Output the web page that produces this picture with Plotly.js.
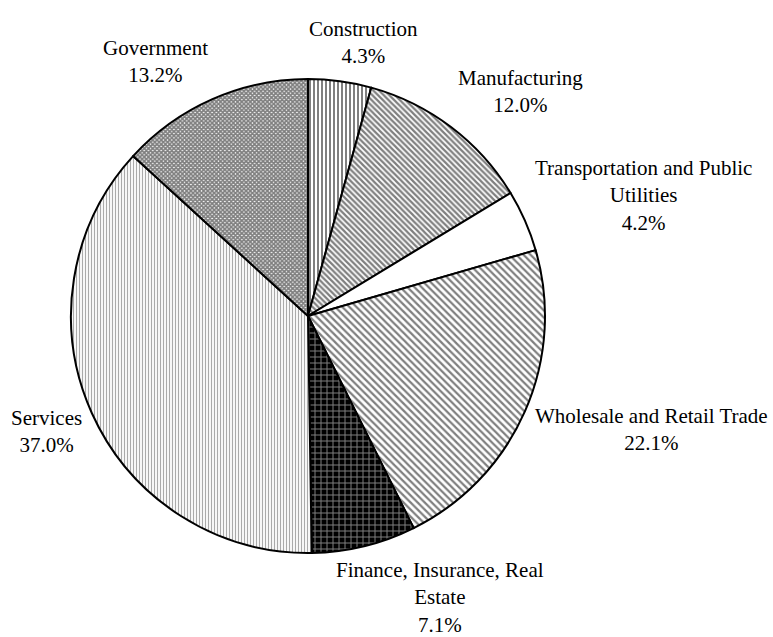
<!DOCTYPE html>
<html>
<head>
<meta charset="utf-8">
<script src="https://cdn.plot.ly/plotly-3.0.1.min.js"></script>
<style>html,body{margin:0;padding:0;background:#fff;}#chart{width:773px;height:637px;}</style>
</head>
<body>
<div id="chart"></div>
<script>
const sectors = ["Construction", "Manufacturing", "Transportation and Public<br>Utilities", "Wholesale and Retail Trade", "Finance, Insurance, Real<br>Estate", "Services", "Government"];
const shares = [4.3, 12.0, 4.2, 22.1, 7.1, 37.0, 13.2];
const shareLabels = ["4.3%", "12.0%", "4.2%", "22.1%", "7.1%", "37.0%", "13.2%"];

const W = 773, H = 637;
const FONT = "Liberation Serif";
const FSIZE = 21;
const domX = [0.0918, 0.7051], domY = [0.1319, 0.876];

const trace = {
  type: "pie",
  labels: sectors,
  values: shares,
  textinfo: "none",
  automargin: false,
  sort: false,
  direction: "clockwise",
  rotation: 0,
  hoverinfo: "none",
  domain: {x: domX, y: domY},
  marker: {
    colors: ["#fff", "#fff", "#fff", "#fff", "#000", "#fff", "#fff"],
    line: {color: "#000", width: 2},
    pattern: {
      shape: ["|", "\\", "", "\\", "+", "|", "x"],
      fgcolor: ["#000", "#000", "#000", "#000", "#fff", "#555", "#000"],
      bgcolor: ["#fff", "#fff", "#fff", "#fff", "#000", "#fff", "#fff"],
      size: [4, 4, 4, 5, 6, 3, 3],
      solidity: [0.5, 0.55, 0.3, 0.45, 0.3, 0.4, 0.8],
      fillmode: "overlay"
    }
  }
};

// label placement derived from slice mid-angles (clockwise from 12 o'clock)
const ctx = document.createElement("canvas").getContext("2d");
ctx.font = FSIZE + "px " + FONT;
const cx = (domX[0] + domX[1]) / 2 * W;
const cyScreen = H - (domY[0] + domY[1]) / 2 * H;
const R = Math.min((domX[1] - domX[0]) * W, (domY[1] - domY[0]) * H) / 2;
const labelR = R + 11;
const total = shares.reduce((a, b) => a + b, 0);
let cum = 0;
const annotations = shares.map((v, i) => {
  const mid = (cum + v / 2) / total * 2 * Math.PI;
  cum += v;
  const s = Math.sin(mid), c = Math.cos(mid);
  const px = cx + labelR * s;
  const py = cyScreen - labelR * c;
  const txt = sectors[i] + "<br>" + shareLabels[i];
  const lines = txt.split("<br>");
  const w = Math.max(...lines.map(l => ctx.measureText(l).width));
  const h = lines.length * FSIZE * 1.3;
  const xs = Math.sign(s) * (w / 2) * Math.min(1, 3 * Math.abs(s));
  const ys = Math.sign(c) * (h / 2) * Math.min(1, 1.25 * Math.abs(c));
  return {
    xref: "paper", yref: "paper",
    x: px / W, y: 1 - py / H,
    xanchor: "center", yanchor: "middle",
    xshift: xs, yshift: ys,
    text: txt,
    showarrow: false,
    align: "center",
    font: {family: FONT, size: FSIZE, color: "#000"}
  };
});

const layout = {
  width: W,
  height: H,
  margin: {l: 0, r: 0, t: 0, b: 0},
  showlegend: false,
  paper_bgcolor: "#fff",
  plot_bgcolor: "#fff",
  font: {family: FONT, size: FSIZE, color: "#000"},
  annotations: annotations
};

Plotly.newPlot("chart", [trace], layout, {displayModeBar: false, staticPlot: true});
</script>
</body>
</html>
